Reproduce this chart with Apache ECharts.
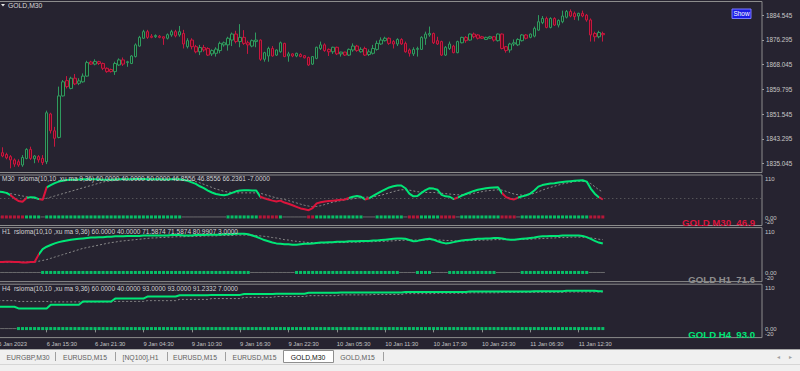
<!DOCTYPE html>
<html><head><meta charset="utf-8">
<script src="https://cdn.jsdelivr.net/npm/echarts@6/dist/echarts.min.js"></script>
<style>html,body{margin:0;padding:0;background:#262330}#c{width:800px;height:371px}</style>
</head><body><div id="c"></div><script>
// ---------- DATA ----------
const symbolTitle = 'GOLD,M30';
const firstLabel = '6 Jan 2023';
const sessions = [['6 Jan','09:30','23:30'],['9 Jan','01:00','23:30'],['10 Jan','01:00','23:30'],['11 Jan','01:00','23:30'],['12 Jan','01:00','23:30']];
const priceTicks = [1884.545,1876.295,1868.045,1859.795,1851.545,1843.295,1835.045];
const currentPrice = 1877.97;
const panelTicksUpper = [110, 0];
const panelTicksLower = [-20];
// [open, close, low, high]
const ohlc = [
[1838.9,1838.6,1838.0,1839.5],[1838.7,1837.6,1837.2,1840.5],[1838.1,1837.0,1836.5,1838.7],[1837.4,1836.3,1833.5,1837.9],
[1836.3,1834.9,1834.0,1836.8],[1835.7,1834.6,1834.0,1836.5],[1834.6,1837.1,1834.0,1837.9],[1836.8,1839.8,1836.5,1840.2],
[1839.8,1836.8,1836.3,1840.7],[1836.7,1837.6,1835.2,1837.9],[1837.4,1836.3,1835.4,1837.9],[1836.8,1835.4,1834.6,1837.9],
[1835.7,1852.0,1834.9,1852.7],[1851.6,1846.0,1845.1,1852.0],[1846.0,1843.5,1840.7,1847.3],[1843.8,1857.6,1843.5,1860.7],
[1857.6,1862.3,1857.4,1862.9],[1862.7,1860.7,1860.1,1864.2],[1860.1,1863.5,1859.8,1864.0],[1863.5,1861.6,1861.2,1864.9],
[1861.8,1862.6,1861.2,1863.5],[1862.3,1864.2,1862.0,1865.1],[1864.2,1868.7,1864.0,1869.3],[1868.9,1868.2,1868.0,1869.3],
[1868.2,1869.1,1867.8,1869.8],[1869.0,1868.4,1867.9,1869.3],[1868.4,1866.8,1866.2,1868.7],[1866.8,1865.7,1865.3,1867.1],
[1866.4,1865.7,1865.4,1866.7],[1865.7,1868.4,1864.6,1869.0],[1867.9,1869.6,1867.6,1870.1],[1869.6,1868.2,1867.6,1870.4],
[1868.7,1869.0,1867.3,1869.3],[1868.4,1870.9,1868.2,1871.2],[1870.7,1874.6,1870.4,1875.1],[1874.2,1877.1,1874.0,1877.6],
[1876.8,1879.0,1876.6,1879.6],[1879.0,1877.1,1876.6,1879.6],[1877.5,1877.1,1876.8,1878.2],[1877.3,1877.7,1876.9,1878.1],
[1877.5,1877.1,1876.8,1877.9],[1877.3,1876.8,1874.6,1877.4],[1876.8,1878.0,1876.4,1878.4],[1877.9,1879.0,1877.3,1879.6],
[1879.0,1877.6,1877.1,1879.6],[1877.9,1879.0,1877.3,1880.9],[1878.4,1874.9,1873.4,1879.6],[1874.0,1876.0,1873.4,1876.8],
[1876.2,1874.0,1873.1,1876.8],[1874.0,1872.3,1871.8,1874.6],[1872.3,1873.7,1871.2,1874.6],[1873.7,1872.9,1872.3,1874.6],
[1873.4,1871.2,1870.9,1873.8],[1871.6,1872.7,1870.9,1873.1],[1871.8,1873.2,1870.7,1873.8],[1872.7,1875.1,1871.8,1875.7],
[1874.6,1875.3,1874.0,1875.7],[1874.6,1876.8,1872.7,1877.3],[1876.2,1878.2,1874.2,1878.7],[1878.2,1875.7,1875.1,1879.3],
[1875.7,1877.1,1873.8,1881.5],[1877.1,1875.1,1874.6,1879.5],[1875.3,1874.6,1871.6,1876.0],[1874.2,1876.0,1873.8,1876.4],
[1875.7,1876.2,1873.8,1878.7],[1876.2,1869.8,1869.3,1876.4],[1869.8,1872.0,1869.0,1872.3],[1870.9,1873.4,1869.0,1874.0],
[1873.4,1870.9,1870.7,1874.2],[1871.2,1872.9,1870.9,1873.1],[1872.3,1875.3,1872.0,1875.7],[1875.1,1870.7,1870.5,1875.3],
[1870.9,1871.6,1869.0,1872.3],[1871.6,1870.9,1870.5,1871.8],[1870.9,1871.8,1870.5,1872.0],[1871.4,1870.7,1870.5,1871.8],
[1871.0,1870.3,1870.1,1871.2],[1870.4,1867.9,1867.6,1870.7],[1868.2,1870.7,1867.9,1870.9],[1870.1,1873.8,1869.8,1874.0],
[1873.4,1874.6,1872.9,1875.7],[1874.6,1872.7,1872.3,1875.1],[1873.1,1872.3,1870.9,1873.4],[1872.3,1873.8,1871.6,1874.0],
[1873.8,1871.6,1871.2,1874.0],[1871.6,1872.2,1870.7,1872.3],[1872.2,1871.2,1870.9,1872.3],[1871.2,1873.1,1870.9,1873.4],
[1872.9,1874.2,1872.3,1875.1],[1874.2,1872.7,1872.3,1874.6],[1872.3,1873.1,1872.0,1873.8],[1873.4,1871.2,1870.9,1874.0],
[1871.4,1872.3,1870.9,1873.1],[1871.8,1873.4,1871.4,1874.6],[1873.1,1875.1,1872.7,1876.0],[1874.9,1876.2,1874.6,1877.1],
[1876.0,1876.8,1875.7,1877.3],[1876.8,1875.1,1874.6,1877.1],[1875.7,1874.9,1873.4,1876.2],[1874.9,1876.4,1874.2,1876.8],
[1876.4,1874.9,1874.6,1876.8],[1875.1,1872.3,1872.0,1875.7],[1872.9,1871.8,1870.7,1873.4],[1871.6,1873.1,1870.9,1873.8],
[1873.1,1873.4,1870.7,1874.0],[1873.1,1877.1,1872.9,1877.5],[1876.8,1878.2,1874.6,1879.0],[1877.9,1878.4,1877.3,1880.7],
[1878.4,1875.3,1874.9,1878.7],[1876.0,1874.9,1874.6,1877.3],[1875.7,1871.2,1870.9,1876.0],[1871.2,1873.8,1870.9,1874.2],
[1873.4,1874.9,1872.9,1875.7],[1874.2,1872.0,1871.8,1874.6],[1872.0,1875.7,1871.8,1876.0],[1875.3,1877.1,1875.1,1877.3],
[1877.1,1876.0,1875.3,1877.5],[1876.2,1878.2,1876.0,1878.4],[1878.2,1877.3,1876.8,1878.7],[1877.9,1876.8,1876.4,1878.2],
[1877.3,1876.8,1876.6,1877.6],[1876.4,1877.1,1876.2,1877.3],[1876.8,1877.3,1876.6,1877.6],[1877.3,1876.2,1875.7,1877.5],
[1876.0,1878.2,1875.7,1878.4],[1878.2,1873.4,1873.1,1878.4],[1874.0,1872.7,1872.0,1874.2],[1872.9,1874.9,1872.0,1875.3],
[1874.9,1875.3,1874.2,1876.4],[1874.6,1876.4,1874.2,1876.8],[1876.0,1877.9,1875.7,1878.2],[1877.9,1876.8,1876.4,1878.2],
[1877.1,1878.2,1876.8,1878.4],[1877.5,1880.1,1877.1,1880.7],[1879.5,1882.3,1879.3,1884.5],[1882.0,1883.4,1881.5,1884.2],
[1883.4,1880.4,1880.1,1884.0],[1880.4,1883.4,1880.1,1883.8],[1883.4,1881.2,1880.9,1883.8],[1881.2,1882.7,1880.4,1883.1],
[1882.3,1884.2,1881.8,1886.0],[1883.8,1885.7,1883.4,1886.2],[1885.7,1884.2,1883.8,1886.4],[1885.1,1884.0,1882.9,1885.7],
[1884.2,1885.1,1882.7,1885.3],[1885.1,1884.2,1883.8,1886.0],[1884.5,1882.9,1882.3,1884.9],[1882.9,1877.9,1875.7,1883.4],
[1878.4,1877.3,1875.7,1879.0],[1877.3,1878.7,1876.8,1879.3],[1878.4,1877.97,1875.7,1879.0]
];
// Panel 1: M30 rsioma
const m30Header = 'M30  rsioma(10,10 ,xu ma 9,36) 60.0000 40.0000 50.0000 46.8556 46.8556 66.2361 -7.0000';
const m30Line = [67,66,64,58,50,43,41,51,53,52,48,46,78,84,89,93,95,97,98,98,98.5,99,99,99,99,98.5,98,98,98,98.5,99,99,99,99,99.5,99.5,99.5,99,99,99,99,98.5,98.5,99,99,99,97,95,91,87,81,76,70,65,61,59,58,60,64,68,70,71,71,70,70,54,50,47,44,42,44,39,36,32,28,24,22,19.5,25,37,40,42,43,44,45,46,47,51,54,56,54,47,50,56,62,68,73,78,81,83,83,76,62,55,56,64,71,76,75,72,59,55,54,48,52,57,61,65,69,72,74,76,77,78,78.5,63,53,49,47,52,55,58,62,70,80,84,86,88,89,90.5,92,93,94,95,96,96.5,93,75,62,53,46.9];
const m30MA = [67,66,64,62,60,58,56,54,52,50,49,48,50,53,56,59,62,65,68,71,74,77,80,83,86,89,92,94,95,96,97,97.5,98,98,98,98,98,98,98,98,98,98,98,98,98,98,98,97,96,93,90,86,82,78,74,71,68,66,65,64,64,64,64,64,64,63,60,57,54,51,49,47,44,41,38,35,32,30,28,29,31,34,37,40,42,44,46,47,49,50,52,53,53,54,56,58,61,64,67,70,72,72,71,69,67,66,65,65,65,64,63,62,61,60,59,59,60,61,63,65,67,69,70,71,72,71,68,64,61,59,58,58,60,63,67,71,75,78,81,84,87,89,91,93,94,94,92,88,80,72,66.2];
const m30LineColor = [['g',3],['r',4],['g',3],['r',2],['g',53],['r',22],['g',4],['r',1],['g',21],['r',1],['g',11],['r',4],['g',20],['r',2]];
const m30State = [['n',1],['r',6],['g',4],['n',1],['g',34],['n',11],['g',8],['r',5],['g',1],['n',6],['r',2],['g',12],['n',3],['g',7],['n',1],['r',3],['g',5],['r',4],['n',1],['g',10],['r',4],['n',1],['g',17],['r',4]];
const m30Level = 50;
// Panel 2: H1 rsioma
const h1Header = 'H1  rsioma(10,10 ,xu ma 9,36) 60.0000 40.0000 71.5874 71.5874 80.9907 3.0000';
const h1Line = [27,27,28,28,27,27,26,26,27,27,45,58,64,68,72,75,77,79,81,82,83,84,85,86,86,87,87,88,88,89,89,89,90,90,90,90,91,91,91,91,91,91,91,92,92,92,91,91,91,92,92,92,93,93,93,93,94,94,94,95,95,95,94,91,88,84,80,77,74,72,71,70,70,69,69,70,71,71,72,73,74,74,75,75,76,76,76,77,77,77,78,78,78,79,79,80,81,82,83,84,84,83,80,77,78,80,82,83,81,77,74,72,73,75,77,79,80,81,82,83,83,84,84,85,85,84,82,81,81,82,83,84,85,86,88,89,89,90,90,90,91,91,91,91,91,90,87,83,78,74,71.6];
const h1MA = [27,27,27,27,27,27,27,27,27,27,29,31,33,36,39,42,45,48,51,54,57,60,62,64,66,68,70,72,74,75,77,78,79,80,81,82,83,84,85,85,86,86,87,87,88,88,88,89,89,89,89,90,90,90,90,91,91,91,91,92,92,92,92,92,91,90,89,88,86,85,83,81,80,78,77,76,75,74,74,73,73,73,73,74,74,74,74,75,75,75,75,76,76,76,77,77,77,78,78,79,79,80,80,80,80,80,80,81,81,80,80,79,79,78,78,78,78,79,79,79,80,80,80,81,81,81,81,81,81,81,82,82,82,83,83,84,84,85,85,86,86,86,87,87,87,87,86,85,84,82,81.0];
const h1LineColor = [['r',10],['g',141]];
const h1State = [['n',11],['g',52],['n',11],['g',26],['n',4],['g',4],['n',4],['g',12],['n',6],['g',17],['n',4]];
// Panel 3: H4 rsioma (stepped, [value, bars])
const h4Header = 'H4  rsioma(10,10 ,xu ma 9,36) 60.0000 40.0000 93.0000 93.0000 91.2332 7.0000';
const h4LineRuns = [[55,5],[51,8],[60,8],[68,8],[75,8],[80,8],[83,8],[84,8],[86,8],[87,8],[89,8],[90,8],[90,8],[91,8],[91,8],[92,8],[92,8],[93,8],[94,8],[93,2]];
const h4MARuns = [[70,5],[68,8],[67,8],[67,8],[68,8],[70,8],[73,8],[75,8],[78,8],[80,8],[82,8],[84,8],[85,8],[87,8],[88,8],[89,8],[90,8],[90,8],[91,8],[91.2,2]];
const h4LineColor = [['g',151]];
const h4State = [['n',5],['g',146]];
const tabs = ['EURGBP,M30','EURUSD,M15','[NQ100],H1','EURUSD,M15','EURUSD,M15','GOLD,M30','GOLD,M15'];
const activeTab = 'GOLD,M30';

// ---------- BUILD ----------
const FONT = '"Liberation Sans", Arial, sans-serif';
const BG = '#262330', GREEN = '#00e676', RED = '#dc143c', NEUTRAL = '#7c7c7c', AXT = '#c4c4c4';
function expandRuns(runs){const o=[];runs.forEach(([v,n])=>{for(let i=0;i<n;i++)o.push(v);});return o;}
function hm(s){const p=s.split(':');return (+p[0])*60+(+p[1]);}
const cats=[];
sessions.forEach(([d,a,b])=>{for(let t=hm(a);t<=hm(b);t+=30){cats.push(d+' '+String(Math.floor(t/60)).padStart(2,'0')+':'+String(t%60).padStart(2,'0'));}});
const categories = cats.slice(0,190);
const h4Line = expandRuns(h4LineRuns), h4MA = expandRuns(h4MARuns);
const lastBar = ohlc.length-1;

const L=-3.7, R=38;
const grids=[
 {left:L,right:R,top:1.5,height:171},
 {left:L,right:R,top:175,height:50.5},
 {left:L,right:R,top:227.6,height:54},
 {left:L,right:R,top:284.2,height:53.4}
].map(g=>Object.assign(g,{show:true,borderColor:'#8c8c8c',borderWidth:1,backgroundColor:'transparent',outerBoundsMode:'none',containLabel:false}));

const tickShow = (i)=> i%12===0 && i<=lastBar-6;
const xAxes=[0,1,2,3].map(k=>({
 type:'category',gridIndex:k,data:categories,boundaryGap:true,
 axisLine:{show:false},splitLine:{show:false},
 axisTick:{show:k===3,alignWithLabel:true,interval:(i)=>tickShow(i),length:3,lineStyle:{color:'#8c8c8c'}},
 axisLabel:{show:k===3,interval:(i)=>tickShow(i),formatter:(v,i)=> i===0?firstLabel:v,align:'left',margin:3,color:AXT,fontSize:5.8,fontFamily:FONT}
}));
const upperLabel = {
 customValues:panelTicksUpper,showMinLabel:true,showMaxLabel:true,hideOverlap:false,
 formatter:(v)=> v===110?'{t|110}':v.toFixed(2),
 color:AXT,fontSize:6,fontFamily:FONT,margin:3,
 rich:{t:{padding:[8,0,0,0],fontSize:6,color:AXT,fontFamily:FONT}}
};
const lowerLabel = {
 customValues:panelTicksLower,showMinLabel:true,hideOverlap:false,
 formatter:(v)=> '{b|'+v+'}',
 color:AXT,fontSize:6,fontFamily:FONT,margin:3,
 rich:{b:{padding:[0,0,8,0],fontSize:6,color:AXT,fontFamily:FONT}}
};
const panelAxis = (k,lab)=>({type:'value',gridIndex:k,position:'right',min:-20,max:110,axisLine:{show:false},splitLine:{show:false},axisTick:{show:false},axisLabel:lab});
const yAxes=[
 {type:'value',gridIndex:0,position:'right',min:1832.11,max:1889.04,axisLine:{show:false},splitLine:{show:false},
  axisTick:{show:true,customValues:priceTicks,length:2,lineStyle:{color:'#9a9a9a'}},
  axisLabel:{customValues:priceTicks,formatter:(v)=>v.toFixed(3),color:'#c8c8c8',fontSize:6.3,fontFamily:FONT,margin:4,hideOverlap:false}},
 panelAxis(1,upperLabel),panelAxis(2,upperLabel),panelAxis(3,upperLabel),
 panelAxis(1,lowerLabel),panelAxis(2,lowerLabel),panelAxis(3,lowerLabel)
];

const series=[{
 type:'candlestick',xAxisIndex:0,yAxisIndex:0,data:ohlc,barWidth:3,
 itemStyle:{color:'#1b2a22',borderColor:'#2f9a5f',color0:'#5a0d20',borderColor0:'#c8173f',borderWidth:1},
 markLine:{silent:true,symbol:'none',data:[{yAxis:currentPrice}],lineStyle:{opacity:0},
  label:{show:true,position:'end',distance:1,formatter:()=>currentPrice.toFixed(3),backgroundColor:'#ffffff',color:'#000',fontSize:6.3,fontFamily:FONT,padding:[0,2,0,1]}}
}];
const visualMaps=[];
const SQY=2;
function addPanel(k,line,ma,colorRuns,stateRuns,level){
 series.push({type:'line',xAxisIndex:k,yAxisIndex:k,data:ma,symbol:'none',z:2,
  lineStyle:{color:'#8a8a8a',width:1,type:[2,2]},
  markLine: level==null?undefined:{silent:true,symbol:'none',data:[{yAxis:level}],label:{show:false},lineStyle:{color:'#6a6a6a',width:1,type:[1,3]}}});
 const mainIdx=series.length;
 series.push({type:'line',xAxisIndex:k,yAxisIndex:k,data:line,symbol:'none',z:3,lineStyle:{width:2}});
 let s=0; const pieces=colorRuns.map(([c,n])=>{const p={gte:s-0.5,lt:s+n-0.5,color:c==='r'?RED:GREEN};s+=n;return p;});
 visualMaps.push({type:'piecewise',show:false,dimension:0,seriesIndex:mainIdx,pieces:pieces,outOfRange:{color:GREEN}});
 const st=expandRuns(stateRuns);
 const g=[],r=[],n=[];
 st.forEach((c,i)=>{(c==='g'?g:c==='r'?r:n).push([i,SQY]);});
 series.push({type:'scatter',xAxisIndex:k,yAxisIndex:k,data:n,symbol:'rect',symbolSize:[4.1,1],itemStyle:{color:NEUTRAL},z:4});
 series.push({type:'scatter',xAxisIndex:k,yAxisIndex:k,data:g,symbol:'rect',symbolSize:[3,3],itemStyle:{color:GREEN},z:4});
 series.push({type:'scatter',xAxisIndex:k,yAxisIndex:k,data:r,symbol:'rect',symbolSize:[3,3],itemStyle:{color:RED},z:4});
}
addPanel(1,m30Line,m30MA,m30LineColor,m30State,m30Level);
addPanel(2,h1Line,h1MA,h1LineColor,h1State,null);
addPanel(3,h4Line,h4MA,h4LineColor,h4State,null);

function txt(x,y,text,o){return {type:'text',x:x,y:y,silent:true,z:100,style:Object.assign({text:text,fill:'#d0d0d0',fontSize:6.5,fontFamily:FONT,verticalAlign:'middle',align:'left'},o||{})};}
const graphic=[
 {type:'polygon',silent:true,z:100,shape:{points:[[1,4],[5,4],[3,6.6]]},style:{fill:'#e8e8e8'}},
 txt(8,5.3,symbolTitle,{fontSize:6.8,fill:'#d8d8d8'}),
 {type:'rect',silent:true,z:100,shape:{x:732,y:9,width:19,height:9.5},style:{fill:'#1c1ce6',stroke:'#7a7aff',lineWidth:1}},
 txt(741.5,13.9,'Show',{fontSize:6.5,fill:'#ffffff',align:'center'}),
 txt(2,178.3,m30Header),
 txt(2,231.3,h1Header),
 txt(2,288.3,h4Header),
 txt(755,222.3,'GOLD M30  '+m30Line[lastBar].toFixed(1),{fontSize:9.6,fontWeight:'bold',fill:RED,align:'right'}),
 txt(755,279,'GOLD H1  '+h1Line[lastBar].toFixed(1),{fontSize:9.6,fontWeight:'bold',fill:'#8e8e8e',align:'right'}),
 txt(755,334,'GOLD H4  '+h4Line[lastBar].toFixed(1),{fontSize:9.6,fontWeight:'bold',fill:GREEN,align:'right'}),
 {type:'rect',silent:true,z:90,shape:{x:0,y:349.5,width:800,height:22},style:{fill:'#f0f0f0'}},
 {type:'line',silent:true,z:91,shape:{x1:0,y1:349.5,x2:800,y2:349.5},style:{stroke:'#a8a8a8',lineWidth:1}},
 {type:'line',silent:true,z:91,shape:{x1:0,y1:364.5,x2:800,y2:364.5},style:{stroke:'#d6d6d6',lineWidth:1}},
];
const tabCenters=[28,85,140.5,195,254.5,308,357.5];
const seps=[55,115,167,225,383];
seps.forEach(x=>graphic.push({type:'line',silent:true,z:92,shape:{x1:x+0.5,y1:352,x2:x+0.5,y2:361},style:{stroke:'#a0a0a0',lineWidth:1}}));
tabs.forEach((t,i)=>{
 if(t===activeTab && i===5){graphic.push({type:'rect',silent:true,z:92,shape:{x:283.5,y:350.5,width:50,height:12},style:{fill:'#ffffff',stroke:'#8e8e8e',lineWidth:1}});}
 graphic.push(Object.assign(txt(tabCenters[i],357,t,{fontSize:6.8,fill:(i===5?'#101010':'#606060'),align:'center'}),{z:95}));
});
graphic.push(Object.assign(txt(778,356.5,'◂',{fontSize:6,fill:'#a0a0a0',align:'center'}),{z:95}));
graphic.push(Object.assign(txt(790,356.5,'▸',{fontSize:6,fill:'#a0a0a0',align:'center'}),{z:95}));

const chart=echarts.init(document.getElementById('c'),null,{renderer:'svg'});
chart.setOption({
 backgroundColor:BG,animation:false,
 grid:grids,xAxis:xAxes,yAxis:yAxes,series:series,visualMap:visualMaps,graphic:graphic,
 tooltip:{show:false},legend:{show:false}
});
</script></body></html>
